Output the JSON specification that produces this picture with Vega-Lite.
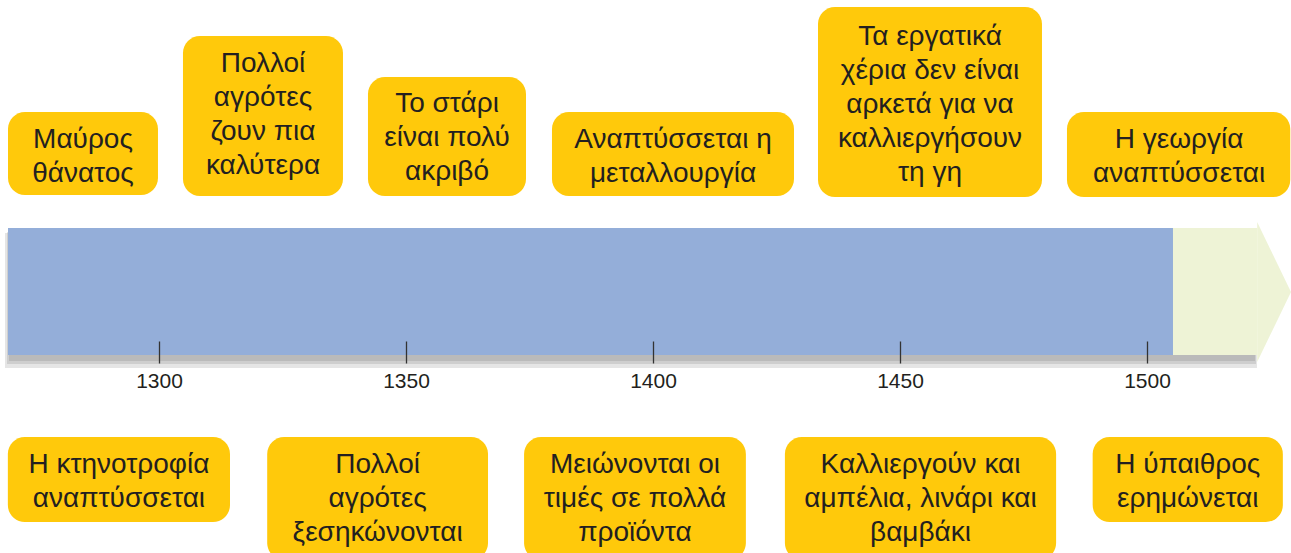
{
  "$schema": "https://vega.github.io/schema/vega-lite/v6.json",
  "width": 1291,
  "height": 553,
  "autosize": "none",
  "padding": 0,
  "background": "#ffffff",
  "config": {"view": {"stroke": null}},
  "datasets": {
    "shadow": [
      {"x0": 1268.82, "x1": 1522.26, "top": 233, "bottom": 368},
      {"x0": 1269.23, "x1": 1522.06, "top": 232, "bottom": 364},
      {"x0": 1269.63, "x1": 1521.86, "top": 231, "bottom": 361}
    ],
    "bars": [
      {"part": "before", "x0": 1269.43, "x1": 1505.26, "top": 228, "bottom": 355},
      {"part": "after", "x0": 1505.26, "x1": 1522.3, "top": 228, "bottom": 355}
    ],
    "head": [
      {"year": 1522.3, "top": 222, "bottom": 362},
      {"year": 1529.15, "top": 292, "bottom": 292}
    ],
    "boxes": [
      {"label": "Μαύρος\nθάνατος", "x0": 1269.43, "x1": 1299.79, "xc": 1284.61, "top": 112, "bottom": 195, "ty": 148},
      {"label": "Πολλοί\nαγρότες\nζουν πια\nκαλύτερα", "x0": 1304.85, "x1": 1337.24, "xc": 1321.05, "top": 36, "bottom": 196, "ty": 72},
      {"label": "Το στάρι\nείναι πολύ\nακριβό", "x0": 1342.3, "x1": 1374.29, "xc": 1358.3, "top": 77, "bottom": 196, "ty": 112},
      {"label": "Αναπτύσσεται η\nμεταλλουργία", "x0": 1379.55, "x1": 1428.54, "xc": 1404.05, "top": 112, "bottom": 196, "ty": 148},
      {"label": "Τα εργατικά\nχέρια δεν είναι\nαρκετά για να\nκαλλιεργήσουν\nτη γη", "x0": 1433.4, "x1": 1478.74, "xc": 1456.07, "top": 7, "bottom": 197, "ty": 45},
      {"label": "Η γεωργία\nαναπτύσσεται", "x0": 1483.8, "x1": 1529.0, "xc": 1506.5, "top": 112, "bottom": 197, "ty": 148},
      {"label": "Η κτηνοτροφία\nαναπτύσσεται", "x0": 1269.4, "x1": 1314.37, "xc": 1291.89, "top": 437, "bottom": 522, "ty": 473},
      {"label": "Πολλοί\nαγρότες\nξεσηκώνονται", "x0": 1321.9, "x1": 1366.6, "xc": 1344.25, "top": 437, "bottom": 560, "ty": 473},
      {"label": "Μειώνονται οι\nτιμές σε πολλά\nπροϊόντα", "x0": 1373.9, "x1": 1418.8, "xc": 1396.35, "top": 437, "bottom": 560, "ty": 473},
      {"label": "Καλλιεργούν και\nαμπέλια, λινάρι και\nβαμβάκι", "x0": 1426.7, "x1": 1481.6, "xc": 1454.15, "top": 437, "bottom": 560, "ty": 473},
      {"label": "Η ύπαιθρος\nερημώνεται", "x0": 1489.0, "x1": 1527.5, "xc": 1508.25, "top": 437, "bottom": 522, "ty": 473}
    ]
  },
  "layer": [
    {
      "data": {"name": "shadow"},
      "mark": {"type": "rect", "color": "#333333", "opacity": 0.13},
      "encoding": {
        "x": {"field": "x0", "type": "quantitative", "scale": {"domain": [1267.81, 1529.15], "nice": false, "zero": false}, "axis": {
          "orient": "bottom",
          "offset": -212,
          "values": [1300, 1350, 1400, 1450, 1500],
          "format": "d",
          "domain": false,
          "grid": false,
          "title": null,
          "tickSize": 22,
          "tickWidth": 1.3,
          "tickColor": "#333333",
          "labelFont": "Liberation Sans",
          "labelFontSize": 21,
          "labelColor": "#231F20",
          "labelPadding": 7,
          "zindex": 1
        }},
        "x2": {"field": "x1"},
        "y": {"field": "top", "type": "quantitative", "scale": {"domain": [0, 553], "reverse": true, "nice": false, "zero": false}, "axis": null},
        "y2": {"field": "bottom"}
      }
    },
    {
      "data": {"name": "bars"},
      "mark": {"type": "rect"},
      "encoding": {
        "x": {"field": "x0", "type": "quantitative"},
        "x2": {"field": "x1"},
        "y": {"field": "top", "type": "quantitative"},
        "y2": {"field": "bottom"},
        "color": {"field": "part", "type": "nominal", "scale": {"domain": ["before", "after"], "range": ["#94AED9", "#EEF3D6"]}, "legend": null}
      }
    },
    {
      "data": {"name": "head"},
      "mark": {"type": "area", "color": "#EEF3D6", "opacity": 1},
      "encoding": {
        "x": {"field": "year", "type": "quantitative"},
        "y": {"field": "top", "type": "quantitative"},
        "y2": {"field": "bottom"}
      }
    },
    {
      "data": {"name": "boxes"},
      "mark": {"type": "rect", "color": "#FFC90B", "cornerRadius": 17},
      "encoding": {
        "x": {"field": "x0", "type": "quantitative"},
        "x2": {"field": "x1"},
        "y": {"field": "top", "type": "quantitative"},
        "y2": {"field": "bottom"}
      }
    },
    {
      "data": {"name": "boxes"},
      "mark": {"type": "text", "font": "Liberation Sans", "fontSize": 28, "lineHeight": 34, "lineBreak": "\n", "align": "center", "baseline": "alphabetic", "color": "#231F20"},
      "encoding": {
        "x": {"field": "xc", "type": "quantitative"},
        "y": {"field": "ty", "type": "quantitative"},
        "text": {"field": "label", "type": "nominal"}
      }
    }
  ]
}
